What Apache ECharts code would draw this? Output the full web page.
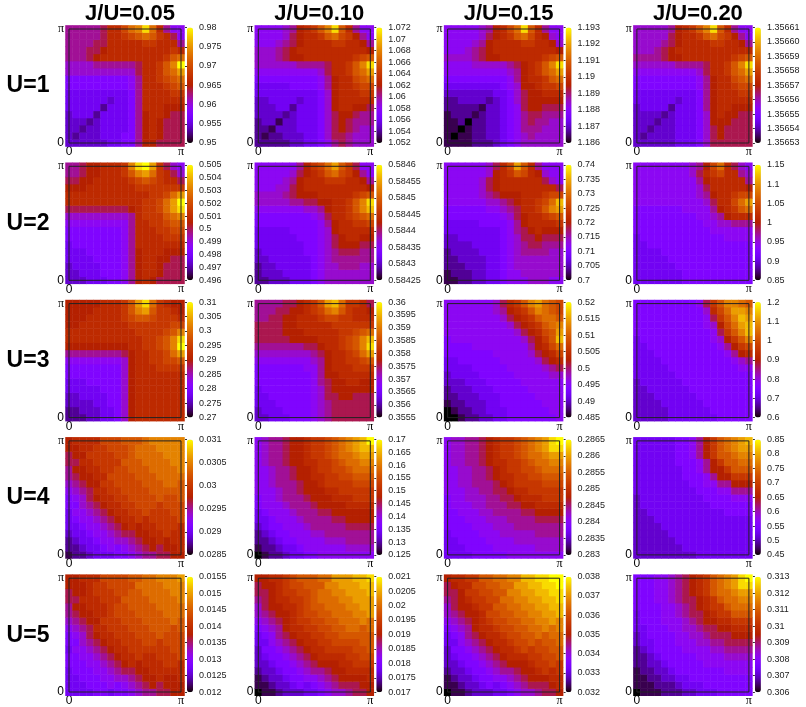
<!DOCTYPE html>
<html>
<head>
<meta charset="utf-8">
<script src="https://cdn.jsdelivr.net/npm/echarts@6/dist/echarts.min.js"></script>
<style>
html,body{margin:0;padding:0;background:#fff}
#chart{width:806px;height:707px}
</style>
</head>
<body>
<div id="chart"></div>
<script>
// column / row titles
var jLabels = ['J/U=0.05', 'J/U=0.10', 'J/U=0.15', 'J/U=0.20'];
var uLabels = ['U=1', 'U=2', 'U=3', 'U=4', 'U=5'];

// colorbar ranges and tick steps, [row U][column J/U]
var cbMin = [[0.95, 1.052, 1.186, 1.35653], [0.496, 0.58425, 0.7, 0.85], [0.27, 0.3555, 0.485, 0.6], [0.0285, 0.125, 0.283, 0.45], [0.012, 0.017, 0.032, 0.306]];
var cbMax = [[0.98, 1.072, 1.193, 1.35661], [0.505, 0.5846, 0.74, 1.15], [0.31, 0.36, 0.52, 1.2], [0.031, 0.17, 0.2865, 0.85], [0.0155, 0.021, 0.038, 0.313]];
var cbStep = [[0.005, 0.002, 0.001, 0.00001], [0.001, 0.00005, 0.005, 0.05], [0.005, 0.0005, 0.005, 0.1], [0.0005, 0.005, 0.0005, 0.05], [0.0005, 0.0005, 0.001, 0.001]];

// cell levels: 17x17, top row = ky=pi, left col = kx=0
// one char per cell, 0..k = 0..20 steps of the colorbar range
var u1j05 = ['888889bbdfgjfb866', '888889bbcdefecb96', '888899bbbbbccbbb8', '88899abbbbbbbbbcb', '8889abbbbbbbbbcef', '77778888889bbcegk', '77777777779bbcefh', '55555555568bbcdef', '55555555568bbbcde', '44444444458bbbbcc', '44444434458bbbbbb', '44444244458bbbaaa', '34442444458abba99', '33323444458aba999', '33233444458aba999', '32333444558aba999', '33333344558aa9999'];
var u1j10 = ['666678abcegjeb866', '666679abbcefdca86', '666789abbbbccbba8', '77789abbbbbbbbbba', '77789aabbbbbbbcde', '77777788889bbcegj', '66666666679bbcefh', '55555555568abbdef', '44444555568abbcdd', '44444444457abbbcc', '33444434457abbbbb', '33344244457abbaa9', '333323444579aa988', '233133444579a9888', '221333444579a9877', '21223334457998777', '22222334456898777'];
var u1j15 = ['6666678abdfjeb866', '6666679abcefdba76', '666678abbbbccbba7', '666789abbbbbbbbba', '777789aabbbbbbcde', '66667777789abcegj', '66666666678abcefh', '55555555568abbcef', '44444444567aabccd', '333333344579aabbb', '223333234579aaaaa', '222221334569aa999', '12221233456899888', '11202233456898877', '11012233456888777', '10112233456787777', '11112223456777777'];
var u1j20 = ['777778abcegjeb866', '777779abbcefdca86', '777789abbbbccbba8', '77789abbbbbbbbbbb', '88889aabbbbbbbcde', '77777788889bbcegj', '66666666679bbcefh', '55555555568abbdef', '55555555568abbcdd', '44444444458abbbcc', '44444434458abbbbb', '34444244458abbaaa', '33332344457abaa99', '33323344457aaa999', '332333444579a9999', '323333444579a9999', '33333344457999999'];

var u2j05 = ['889aabbbcgjkhc976', '889aabbbceghfcb97', '99aabbbbbcdedcbb9', 'aaabbbbbbbccccccc', 'bbbbbbbbbbbbccdfh', 'bbbbbbbbbbbccdfhk', '999999999abccdfhj', '7777777778bcccefg', '6666666668bbccdee', '5555555568bbbccdd', '5555555568bbbbccc', '4555555568bbbbbbb', '4445555568abbbaaa', '4444555568abbaa99', '3444455568abba999', '3344455568abba999', '3334445568aba9999'];
var u2j10 = ['6666668acdfhec966', '6666679abcefdca86', '666678abbbcccbba8', '666779abbbbbbbbba', '777789aaabbbbbcde', '777778899aabbcegj', '6666666778abbcegi', '55555555679bbcdef', '55555555568abbccd', '44444555567abbbbb', '444444555679abbaa', '444444455679aaa99', '34444445567899988', '33444444567888888', '23344444567788877', '23334444567777777', '22333444567777777'];
var u2j15 = ['66666679bdheb8666', '6666667abcedba766', '6666679abbbbbb976', '6666679abbbbbbbb9', '66666789aaabbbcdd', '6666667789abbcdfi', '55555566789bbcegh', '55555555679abbcde', '44444555568abbbbc', '444444445689abaaa', '3344444456799a999', '33334444567899888', '23333444567888877', '22333344567777777', '22233344567777777', '12223344566777777', '11223344566677766'];
var u2j20 = ['6666666678adfb976', '6666666679bcdbb87', '6666666668abbbbb8', '66666666679bbbbba', '66666666678abbcdd', '666666666679bbdfh', '555555566668abcef', '5555555556678abbb', '55555555556677888', '55555555555666666', '45555555555556666', '44555555555555555', '44445555555555555', '44444555555555555', '44444455555555555', '44444445555555555', '44444445555555555'];

var u3j05 = ['aaaaabbbcehjfcbaa', 'aaaabbbbcegheccba', 'aaabbbbbcdeedcccb', 'aabbbbbbbccccccdd', 'bbbbbbbbbbccccdeg', 'bbbbbbbbbbbccdegj', 'aaaaaaaaabbccdegk', '888888889abbccdfh', '666666667abbccdde', '555555557abbbcccc', '555555557abbbbbbb', '444555557abbbbbbb', '444445557abbbbbbb', '334444557abbbbbbb', '333344557abbbbbbb', '223334457abbbbbbb', '222334457abbbbbbb'];
var u3j10 = ['888899abcehifccb9', '88899aabcdfgecbba', '8899aabbbcddccbbb', '9999aabbbbbcccccc', '9999aaabbbbbccdef', '99999aaaabbbcdegi', '888888899abbcdegj', '7777777789abbcdfh', '6666666678abbccde', '5555555668abbbccc', '5555555568aabbbbb', '55555555689aabbaa', '45555555679aaaaaa', '445555556799aa999', '44455555678999999', '34445555678999999', '33444555678999999'];
var u3j15 = ['666666679bceghfed', '666666678abcegfed', '6666666679abceffe', '66666666679abcefg', '666666666679abdeh', '5666666666679acei', '5555666666668abdf', '55555556666679abd', '445555556666679ab', '44445555566666789', '34444555556666677', '33344455555666666', '23334445555566666', '22333444555556666', '12233344555555666', '01223344455555566', '00122334455555556'];
var u3j20 = ['55555555569ceggfe', '55555555557bdfhhg', '555555555569cegih', '555555555567adfhi', '5555555555569cegi', '4555555555567aceg', '44555555555568acd', '444555555555568ab', '44445555555555678', '44444555555555566', '44444455555555555', '34444445555555555', '33444444555555555', '33344444455555555', '33334444445555555', '33333444444555555', '33333444444455555'];

var u4j05 = ['abbbbdddeeefggggg', 'aabbccdddefffgggg', '9aaccccddeffffggg', '99bbcccceeeffffgg', '8aabbccddeeeffffg', '89aabbddddeeeffff', '789aaccddddeeeffe', '6789bbccddddeeeee', '5679abbccddddedde', '55789abbccdddcddd', '466789abbccdcccdd', '4566789abbcbccccd', '44566789ababbcccb', '3445667899aabbcbb', '23445667789aababb', '223445656789a9aab', '122344455678899aa'];
var u4j10 = ['67889aabccdefghik', '67889aabccdefghii', '67889aabccdeffghh', '67889aabbccdeffgg', '667889aabccddefff', '667889aabbccddeee', '6678889aabccccddd', '6667889aaabbccccc', '56678889aaabbbccc', '566678889aaaabbbb', '45666788899aaaaaa', '4456667888899aaaa', '34556667888889999', '23455666778888888', '22345566667778888', '12234456666667777', '01223445566666666'];
var u4j15 = ['677889abccdefghjk', '677889abccdefghjj', '677889abccdeffghh', '677889abbccdeffgg', '6677889abccddefff', '6677889abbccddeee', '66778889abccccddd', '666778899abbccccc', '5667778899abbbccc', '56667788899aabbbb', '5566677888899aaaa', '55566677788889999', '55556667778888888', '45555666777778888', '44555566667777777', '44455556666667777', '44445555566666666'];
var u4j20 = ['4444445568acefghi', '4444445568acefghh', '4444445568aceefgg', '44444455568aceeff', '44444445568aaceee', '444444455568aaccc', '44444444556688aaa', '44444444455566888', '34444444445555666', '34444444444555555', '33444444444445555', '33344444444444444', '33334444444444444', '33333444444444444', '33333344444444444', '33333334444444444', '33333333344444444'];

var u5j05 = ['aabbbddddeeffgggh', 'aaabccddddffffggg', '9aabcccddeeffffgg', '99bbbccceeeeffffg', '8aabbbcddeeeeffff', '89aabbcdddeeeefff', '789aacccdddeeeefe', '6789bbcccdddeeede', '5679abbcccdddeddd', '55789abbcccddcddd', '466789abbccccccdd', '5566789abbcbbcccd', '55566789ababbbccb', '4555667899aabbbbb', '44555667789aabaab', '444555656789a9aaa', '444455455678899aa'];
var u5j10 = ['aabbcdeeeffhhhiij', '9aabcddeeegghhhii', '99abccddeffgghhhi', '89abbccdefffgghhh', '79aabbcdeefffgghh', '789aabcddeefffggh', '6789abccddeefffgf', '5678abbccddeeffef', '45689abbccddeeeee', '446789abbccddddee', '3556789abbccccdde', '34556789abbbbccdd', '334556789aaabbccc', '23345567889aabbbb', '123345566789aaaab', '112334545678999aa', '0112333445677899a'];
var u5j15 = ['abbcceeffggiijjkk', '9abbddeeffhhiijjk', '99accddeegghhiijj', '89abccddffgghhiij', '79aabcceeffgghhii', '789aabddeeffgghhi', '6789abcddeeffgghg', '5678abbcddeeffgfg', '45689abbcddeefeff', '446789abbcddedeef', '3556789abbcdcddee', '34556789abbbccdde', '334556789aaabccdc', '23345567889aabcbc', '123345566789aaabb', '112334545678999ab', '0112333445677899a'];
var u5j20 = ['55566789abcefghjk', '55566789abcefghjj', '55566789abceffghh', '555667899abceffgg', '555566789abccefff', '4555667899abcceee', '4555666789aabbccc', '445556677899aabbb', '34555566778999aaa', '34455566677889999', '23455556666778888', '22345555566667777', '22334555556666666', '12233455555556666', '11223344555555555', '11122234445555555', '01112223344455555'];

var maps = [
  [u1j05, u1j10, u1j15, u1j20],
  [u2j05, u2j10, u2j15, u2j20],
  [u3j05, u3j10, u3j15, u3j20],
  [u4j05, u4j10, u4j15, u4j20],
  [u5j05, u5j10, u5j15, u5j20]
];

// gnuplot default pm3d palette (rgbformulae 7,5,15)
function pm3d(x) {
  var r = Math.sqrt(x), g = x * x * x, b = Math.max(0, Math.sin(2 * Math.PI * x));
  return 'rgb(' + Math.round(r * 255) + ',' + Math.round(g * 255) + ',' + Math.round(b * 255) + ')';
}
var palette = [];
for (var p = 0; p <= 60; p++) palette.push(pm3d(p / 60));

function decode(rows, lo, hi) {
  var out = [];
  for (var j = 0; j < 17; j++) {
    var s = rows[16 - j];
    for (var i = 0; i < 17; i++) {
      out.push([i, j, lo + (hi - lo) * parseInt(s.charAt(i), 36) / 20]);
    }
  }
  return out;
}

var cats = [];
for (var k = 0; k < 17; k++) cats.push(String(k));

var grid = [], xAxis = [], yAxis = [], series = [], visualMap = [], graphic = [];
var font = 'Liberation Sans, Arial, sans-serif';

for (var r = 0; r < 5; r++) {
  for (var c = 0; c < 4; c++) {
    var fl = 69 + 189.3 * c, ft = 29 + 137.3 * r, fw = 112, fh = 114;
    var lo = cbMin[r][c], hi = cbMax[r][c], step = cbStep[r][c];
    var g0 = grid.length;

    // heat cells, half a cell past the frame on each side
    grid.push({left: fl - fw / 32, top: ft - fh / 32, width: fw * 17 / 16, height: fh * 17 / 16});
    xAxis.push({type: 'category', gridIndex: g0, data: cats, show: false});
    yAxis.push({type: 'category', gridIndex: g0, data: cats, show: false});
    series.push({
      type: 'heatmap', xAxisIndex: g0, yAxisIndex: g0,
      data: decode(maps[r][c], lo, hi),
      progressive: 0, emphasis: {disabled: true}
    });
    visualMap.push({
      type: 'continuous', seriesIndex: series.length - 1, dimension: 2,
      min: lo, max: hi, calculable: false, hoverLink: false,
      left: fl + 118, top: ft - 1.5, itemWidth: 6, itemHeight: fh + 1.5,
      padding: 0, text: null, inRange: {color: palette}
    });

    // frame with 0 / pi ticks
    grid.push({left: fl, top: ft, width: fw, height: fh, show: true, z: 5,
      borderColor: '#222', borderWidth: 1, backgroundColor: 'rgba(0,0,0,0)'});
    var tickLab = {
      fontSize: 12, color: '#000', fontFamily: font,
      formatter: function (v) { return v > 0.5 ? '{p|π}' : '0'; },
      rich: {p: {fontFamily: 'Liberation Serif, serif', fontSize: 12, color: '#000'}}
    };
    xAxis.push({type: 'value', gridIndex: g0 + 1, min: 0, max: 1, interval: 1,
      axisLine: {show: false}, axisTick: {show: false}, splitLine: {show: false},
      axisLabel: Object.assign({margin: 3}, tickLab)});
    yAxis.push({type: 'value', gridIndex: g0 + 1, min: 0, max: 1, interval: 1,
      axisLine: {show: false}, axisTick: {show: false}, splitLine: {show: false},
      axisLabel: Object.assign({margin: 5}, tickLab)});

    // colorbar axis
    var dec = Math.max(0, -Math.floor(Math.log10(step) + 1e-9));
    var keep = (r === 0 && c === 3);
    grid.push({left: fl + 118, top: ft - 1.5, width: 6, height: fh + 1.5});
    xAxis.push({type: 'value', gridIndex: g0 + 2, show: false, min: 0, max: 1});
    yAxis.push({type: 'value', gridIndex: g0 + 2, position: 'right', min: lo, max: hi, interval: step,
      axisLine: {show: false}, splitLine: {show: false},
      axisTick: {show: true, inside: true, length: 2, lineStyle: {color: '#333', width: 1}},
      axisLabel: {fontSize: 9, color: '#222', margin: 6, fontFamily: font,
        formatter: (function (d, kz) {
          return function (v) { return kz ? v.toFixed(d) : String(+v.toFixed(d)); };
        })(dec, keep)}
    });
  }
}

for (var c2 = 0; c2 < 4; c2++) {
  graphic.push({type: 'text', x: 130 + 189.3 * c2, y: 13.5,
    style: {text: jLabels[c2], fontSize: 22, fontWeight: 'bold', fontFamily: font,
      fill: '#000', align: 'center', verticalAlign: 'middle'}});
}
for (var r2 = 0; r2 < 5; r2++) {
  graphic.push({type: 'text', x: 28, y: 86 + 137.3 * r2,
    style: {text: uLabels[r2], fontSize: 23, fontWeight: 'bold', fontFamily: font,
      fill: '#000', align: 'center', verticalAlign: 'middle'}});
}

var chart = echarts.init(document.getElementById('chart'));
chart.setOption({
  animation: false,
  backgroundColor: '#fff',
  grid: grid,
  xAxis: xAxis,
  yAxis: yAxis,
  visualMap: visualMap,
  series: series,
  graphic: graphic
});
</script>
</body>
</html>
